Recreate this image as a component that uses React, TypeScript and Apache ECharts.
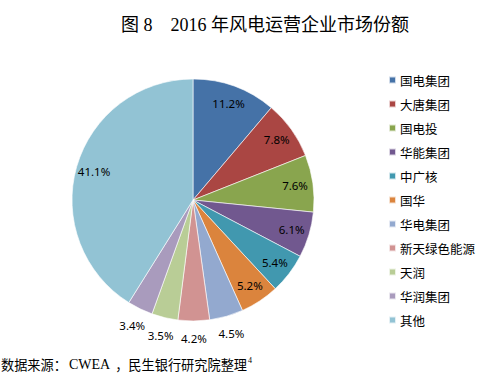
import React, { useEffect, useRef } from "react";
import * as echarts from "echarts";

const titleText = "图 8    2016 年风电运营企业市场份额";
const sourcePrefix = "数据来源：";
const sourceOrg = "CWEA";
const sourceSuffix = "，民生银行研究院整理";
const sourceNote = "4";
const names = [
  "国电集团",
  "大唐集团",
  "国电投",
  "华能集团",
  "中广核",
  "国华",
  "华电集团",
  "新天绿色能源",
  "天润",
  "华润集团",
  "其他",
];
const values = [11.2, 7.8, 7.6, 6.1, 5.4, 5.2, 4.5, 4.2, 3.5, 3.4, 41.1];
const outsideLabel = [false, false, false, false, false, false, true, true, true, true, false];
const colors = [
  "#4572A7",
  "#AA4643",
  "#89A54E",
  "#71588F",
  "#4198AF",
  "#DB843D",
  "#93A9CF",
  "#D19392",
  "#B9CD96",
  "#A99BBD",
  "#92C3D4",
];

const CJK = '"Noto Sans CJK SC", sans-serif';
const SERIF = '"Liberation Serif", "Noto Sans CJK SC", serif';
const LABEL_FONT = '"Noto Sans", "Liberation Sans", sans-serif';

export default function App() {
  const ref = useRef<HTMLDivElement>(null);
  useEffect(() => {
    if (!ref.current) return;
    const chart = echarts.init(ref.current, undefined, { renderer: "svg" });
    const center = [193, 200];
    const labelStyle = {
      fontFamily: LABEL_FONT,
      fontSize: 11.5,
      color: "#000",
    };
    const solidData = names.map((n, i) => ({
      name: n,
      value: values[i],
      itemStyle: { color: colors[i] },
    }));
    const innerLabelData = names.map((n, i) => ({
      name: n,
      value: values[i],
      label: { show: !outsideLabel[i] },
    }));
    const outerLabelData = names.map((n, i) => ({
      name: n,
      value: values[i],
      label: { show: outsideLabel[i] },
    }));
    const labelSeriesBase = {
      type: "pie",
      center,
      startAngle: 90,
      clockwise: true,
      silent: true,
      legendHoverLink: false,
      itemStyle: { color: "rgba(0,0,0,0)", borderWidth: 0 },
      labelLine: { show: false },
      emphasis: { disabled: true },
    };
    chart.setOption({
      animation: false,
      backgroundColor: "#fff",
      legend: {
        orient: "vertical",
        left: 383,
        top: 68,
        itemWidth: 7,
        itemHeight: 7,
        itemGap: 10,
        icon: "rect",
        data: names,
        textStyle: {
          fontFamily: CJK,
          fontSize: 12.5,
          lineHeight: 14,
          color: "#000",
          padding: [0, 0, 0, -1],
        },
      },
      series: [
        {
          type: "pie",
          center,
          radius: [0, 121],
          startAngle: 90,
          clockwise: true,
          data: solidData,
          label: { show: false },
          labelLine: { show: false },
          itemStyle: { borderColor: "rgba(255,255,255,0.75)", borderWidth: 0.8 },
          emphasis: { disabled: true },
        },
        {
          ...labelSeriesBase,
          radius: [79, 121],
          data: innerLabelData,
          label: {
            position: "inside",
            formatter: (p: any) => p.value.toFixed(1) + "%",
            ...labelStyle,
          },
        },
        {
          ...labelSeriesBase,
          radius: [126, 146],
          data: outerLabelData,
          label: {
            position: "inside",
            formatter: (p: any) => p.value.toFixed(1) + "%",
            ...labelStyle,
          },
        },
      ],
      graphic: [
        {
          type: "text",
          x: 265,
          y: 25,
          style: {
            text: titleText,
            fontFamily: SERIF,
            fontSize: 18,
            fill: "#000",
            textAlign: "center",
            textVerticalAlign: "middle",
          },
        },
        {
          type: "text",
          x: 1,
          y: 364,
          style: {
            text:
              "{a|" + sourcePrefix + "}{b|" + sourceOrg + "}{a|" + sourceSuffix + "}{s|" + sourceNote + "}",
            textVerticalAlign: "middle",
            rich: {
              a: { fontFamily: CJK, fontSize: 13.2, color: "#000" },
              b: { fontFamily: SERIF, fontSize: 14, color: "#000", padding: [0, 5, 0, 2] },
              s: {
                fontFamily: SERIF,
                fontSize: 8,
                color: "#000",
                verticalAlign: "top",
                padding: [0, 0, 7, 1],
              },
            },
          },
        },
      ],
    });
    return () => chart.dispose();
  }, []);
  return (
    <div
      ref={ref}
      style={{ position: "fixed", left: 0, top: 0, width: 478, height: 376 }}
    />
  );
}
